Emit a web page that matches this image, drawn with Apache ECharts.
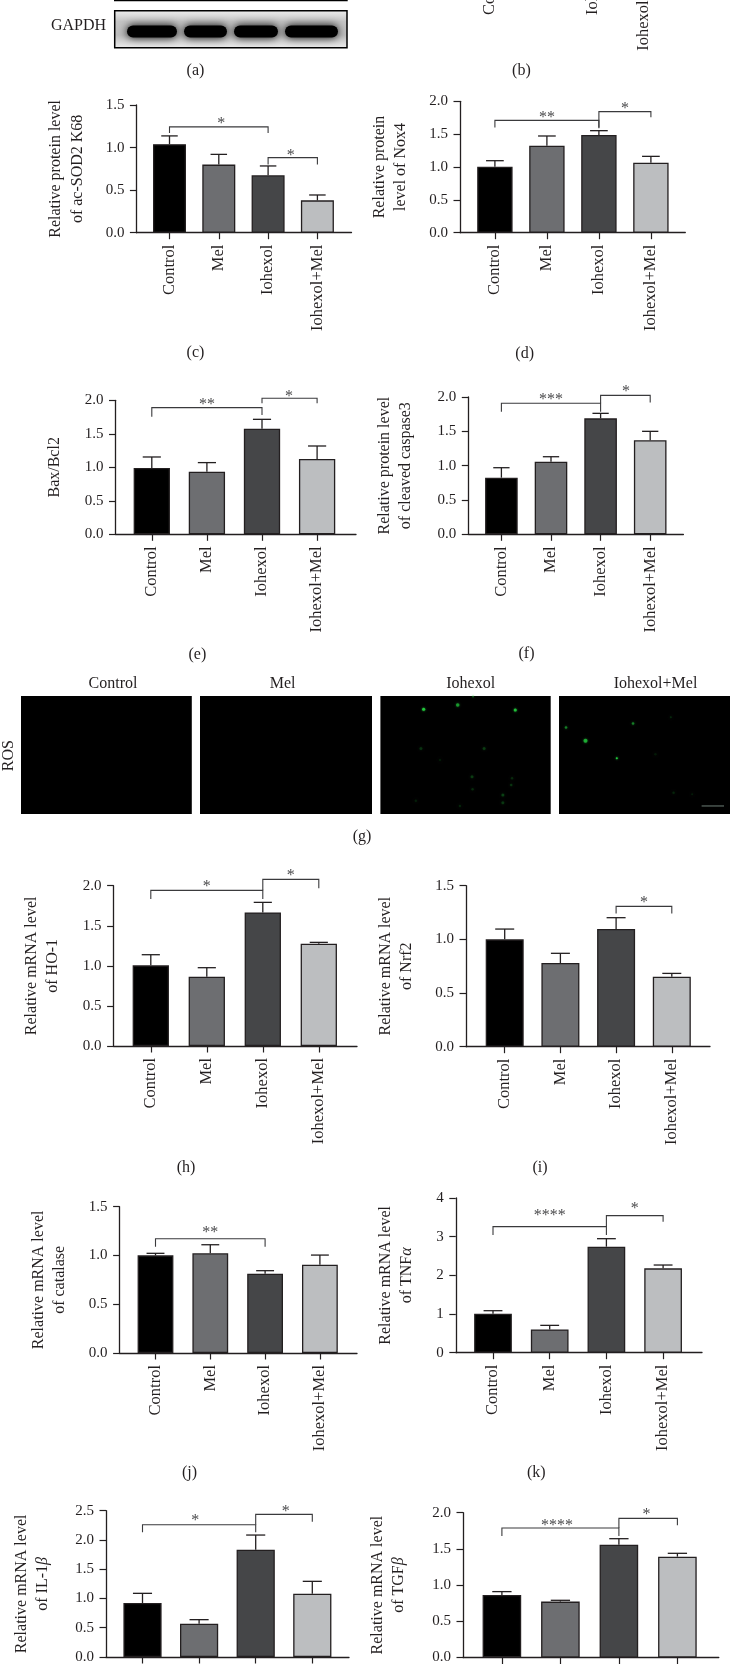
<!DOCTYPE html>
<html>
<head>
<meta charset="utf-8">
<style>html,body{margin:0;padding:0;background:#fff}#chart{width:730px;height:1665px}</style>
<script src="https://cdn.jsdelivr.net/npm/echarts@6/dist/echarts.min.js"></script>
</head>
<body>
<div id="chart"></div>
<script>
// ---------- data ----------
const categories = ['Control', 'Mel', 'Iohexol', 'Iohexol+Mel'];

const valuesC = [1.04, 0.80, 0.675, 0.38];
const errorsC = [1.137, 0.92, 0.784, 0.443];
const valuesD = [1.005, 1.325, 1.487, 1.066];
const errorsD = [1.096, 1.472, 1.553, 1.162];
const valuesE = [0.99, 0.935, 1.577, 1.124];
const errorsE = [1.154, 1.07, 1.716, 1.318];
const valuesF = [0.825, 1.058, 1.689, 1.369];
const errorsF = [0.97, 1.13, 1.762, 1.5];
const valuesH = [1.006, 0.865, 1.667, 1.277];
const errorsH = [1.139, 0.977, 1.792, 1.293];
const valuesI = [1.0, 0.78, 1.096, 0.652];
const errorsI = [1.096, 0.87, 1.202, 0.683];
const valuesJ = [1.001, 1.022, 0.813, 0.905];
const errorsJ = [1.022, 1.11, 0.844, 1.004];
const valuesK = [1.009, 0.603, 2.741, 2.181];
const errorsK = [1.086, 0.707, 2.948, 2.267];
const valuesL = [0.923, 0.57, 1.834, 1.082];
const errorsL = [1.088, 0.638, 2.084, 1.293];
const valuesM = [0.864, 0.772, 1.559, 1.393];
const errorsM = [0.91, 0.79, 1.641, 1.439];

// from, to, bracket level, left end, right end, stars, star position, star level
const bracketsC = [[0, 2, 1.243, 1.17, 1.17, '*', 1.05, 1.318], [2, 3, 0.882, 0.80, 0.80, '*', 2.46, 0.941]];
const bracketsD = [[0, 2, 1.71, 1.6, 1.6, '**', 1.0, 1.792], [2, 3, 1.843, 1.59, 1.756, '*', 2.5, 1.929]];
const bracketsE = [[0, 2, 1.89, 1.756, 1.78, '**', 1.0, 1.98], [2, 3, 2.03, 1.955, 1.955, '*', 2.49, 2.095]];
const bracketsF = [[0, 2, 1.908, 1.786, 1.786, '***', 1.0, 2.0], [2, 3, 2.024, 1.908, 1.92, '*', 2.51, 2.121]];
const bracketsH = [[0, 2, 1.942, 1.834, 1.834, '*', 1.0, 2.029], [2, 3, 2.079, 1.942, 1.967, '*', 2.5, 2.166]];
const bracketsI = [[2, 3, 1.307, 1.242, 1.242, '*', 2.5, 1.366]];
const bracketsJ = [[0, 2, 1.172, 1.09, 1.09, '**', 1.0, 1.268]];
const bracketsK = [[0, 2, 3.259, 3.043, 3.043, '****', 1.0, 3.621], [2, 3, 3.543, 3.259, 3.388, '*', 2.5, 3.793]];
const bracketsL = [[0, 2, 2.261, 2.13, 2.13, '*', 0.93, 2.38], [2, 3, 2.437, 2.261, 2.31, '*', 2.53, 2.534]];
const bracketsM = [[0, 2, 1.789, 1.678, 1.678, '****', 0.94, 1.862], [2, 3, 1.922, 1.789, 1.825, '*', 2.47, 2.014]];

const rosTitles = ['Control', 'Mel', 'Iohexol', 'Iohexol+Mel'];
// micrograph spots: x %, y %, size, opacity
const rosSpots3 = [[25.4, 11.3, 3, 1], [45.4, 7.6, 3.5, 0.6], [79.2, 11.9, 3, 0.9], [54.4, 0.5, 2, 0.35], [60.9, 44.4, 3, 0.2], [23.8, 44.4, 3, 0.16], [53.8, 68.4, 3, 0.2], [71.9, 83.9, 3, 0.22], [76.8, 75.4, 2.5, 0.18], [77.3, 69.8, 2.5, 0.14], [54.1, 79.1, 2.5, 0.14], [71.9, 90.4, 3, 0.18], [46.7, 93.2, 2.5, 0.12], [20.8, 88.7, 2.5, 0.1], [35, 54.2, 2.5, 0.08]];
const rosSpots4 = [[4.1, 26.8, 2.5, 0.5], [43.3, 23.2, 2.5, 0.5], [15.5, 37.9, 4, 0.7], [33.8, 52.8, 2, 1], [65.4, 18.1, 2, 0.15], [67, 81.9, 2.5, 0.12], [56.4, 49.4, 2.5, 0.08], [77.9, 83.3, 2, 0.1]];
const scaleBarPoints = [[83.4, 93.2], [96.5, 93.2]];

// ---------- layout and styles ----------
const FONT = '"Liberation Serif", serif';
const INK = '#231f20';
const barColors = ['#000000', '#6d6e71', '#454648', '#bcbec0'];

const panels = [
  { v: valuesC, e: errorsC, b: bracketsC, left: 136.4, right: 351.5, top: 105, bottom: 232.7, t0: 169.5, step: 49.3, bw: 33, max: 1.5, int: 0.5, gap: 48, name: 'Relative protein level\nof ac-SOD2 K68' },
  { v: valuesD, e: errorsD, b: bracketsD, left: 460, right: 685.3, top: 101.3, bottom: 232.7, t0: 494.9, step: 52, bw: 35.4, max: 2, int: 0.5, gap: 48, name: 'Relative protein\nlevel of Nox4' },
  { v: valuesE, e: errorsE, b: bracketsE, left: 115.5, right: 356, top: 400.3, bottom: 534.3, t0: 151.8, step: 55.1, bw: 36.3, max: 2, int: 0.5, gap: 49.7, name: 'Bax/Bcl2' },
  { v: valuesF, e: errorsF, b: bracketsF, left: 468.3, right: 683.4, top: 397, bottom: 534.3, t0: 501.4, step: 49.6, bw: 32.6, max: 2, int: 0.5, gap: 51.5, name: 'Relative protein level\nof cleaved caspase3' },
  { v: valuesH, e: errorsH, b: bracketsH, left: 113.6, right: 357, top: 885.7, bottom: 1046, t0: 150.8, step: 56, bw: 36.3, max: 2, int: 0.5, gap: 50, name: 'Relative mRNA level\nof HO-1' },
  { v: valuesI, e: errorsI, b: bracketsI, left: 466, right: 710, top: 885.7, bottom: 1046.7, t0: 504.7, step: 55.7, bw: 38, max: 1.5, int: 0.5, gap: 48, name: 'Relative mRNA level\nof Nrf2' },
  { v: valuesJ, e: errorsJ, b: bracketsJ, left: 119.6, right: 357, top: 1206.7, bottom: 1353, t0: 155.5, step: 54.8, bw: 35.8, max: 1.5, int: 0.5, gap: 49, name: 'Relative mRNA level\nof catalase' },
  { v: valuesK, e: errorsK, b: bracketsK, left: 455.8, right: 702, top: 1198, bottom: 1352.7, t0: 493, step: 56.7, bw: 37.7, max: 4, int: 1, dec: 0, gap: 38, name: 'Relative mRNA level\nof TNF{i|α}' },
  { v: valuesL, e: errorsL, b: bracketsL, left: 106, right: 349, top: 1510.7, bottom: 1657, t0: 142.5, step: 56.6, bw: 38.2, max: 2.5, int: 0.5, gap: 52, noLabels: true, name: 'Relative mRNA level\nof IL-1{i|β}' },
  { v: valuesM, e: errorsM, b: bracketsM, left: 463, right: 718.8, top: 1512.7, bottom: 1657.7, t0: 501.9, step: 58.5, bw: 38.6, max: 2, int: 0.5, gap: 53, noLabels: true, name: 'Relative mRNA level\nof TGF{i|β}' }
];

const rosPanels = [
  { left: 21, right: 191.8, spots: [] },
  { left: 200, right: 372, spots: [] },
  { left: 380.4, right: 550.7, spots: rosSpots3 },
  { left: 559, right: 730, spots: rosSpots4, bar: scaleBarPoints }
];

const grid = [], xAxis = [], yAxis = [], series = [];

function xLimits(p) {
  return { min: (p.left - p.t0) / p.step, max: (p.right - p.t0) / p.step };
}

function addAxes(p) {
  const lim = xLimits(p);
  const idx = grid.length;
  grid.push({ left: p.left, top: p.top, width: p.right - p.left, height: p.bottom - p.top, containLabel: false });
  xAxis.push({
    gridIndex: idx, type: 'value', min: lim.min, max: lim.max, splitLine: { show: false },
    axisLine: { show: !p.noLine, onZero: false, lineStyle: { color: INK, width: 1.3 } },
    axisTick: { show: !p.noLine, length: 6.5, customValues: [0, 1, 2, 3], lineStyle: { color: INK, width: 1.2 } },
    axisLabel: {
      show: !p.noLabels, customValues: [0, 1, 2, 3], rotate: 90, margin: 12, fontFamily: FONT, fontSize: 16.5, color: INK,
      formatter: v => categories[v] || ''
    }
  });
  return idx;
}

panels.forEach(p => {
  const idx = addAxes(p);
  const dec = p.dec === undefined ? 1 : p.dec;
  yAxis.push({
    gridIndex: idx, type: 'value', min: 0, max: p.max, interval: p.int, splitLine: { show: false },
    axisLine: { show: true, onZero: false, lineStyle: { color: INK, width: 1.3 } },
    axisTick: { show: true, length: 6.5, lineStyle: { color: INK, width: 1.2 } },
    axisLabel: { margin: 12, fontFamily: FONT, fontSize: 15, color: INK, formatter: v => v.toFixed(dec) },
    name: p.name, nameLocation: 'middle', nameRotate: 90, nameGap: p.gap, nameMoveOverlap: false,
    nameTextStyle: {
      fontFamily: FONT, fontSize: 16, color: INK, lineHeight: 21.5,
      rich: { i: { fontFamily: FONT, fontSize: 16, fontStyle: 'italic', color: INK, lineHeight: 21.5 } }
    }
  });
  series.push({
    type: 'bar', xAxisIndex: idx, yAxisIndex: idx, barWidth: p.bw, z: 3,
    data: p.v.map((val, i) => ({ value: [i, val], itemStyle: { color: barColors[i], borderColor: INK, borderWidth: 1.3 } })),
    silent: true
  });
  series.push({
    type: 'custom', xAxisIndex: idx, yAxisIndex: idx, z: 4, silent: true, clip: false,
    encode: { x: 0, y: 2 },
    data: p.v.map((val, i) => [i, val, p.e[i]]),
    renderItem: (params, api) => {
      const base = api.coord([api.value(0), api.value(1)]);
      const top = api.coord([api.value(0), api.value(2)]);
      const cap = p.bw * 0.25;
      const st = { stroke: INK, lineWidth: 1.3 };
      return { type: 'group', children: [
        { type: 'line', shape: { x1: base[0], y1: base[1], x2: top[0], y2: top[1] }, style: st },
        { type: 'line', shape: { x1: top[0] - cap, y1: top[1], x2: top[0] + cap, y2: top[1] }, style: st }
      ] };
    }
  });
  series.push({
    type: 'custom', xAxisIndex: idx, yAxisIndex: idx, z: 5, silent: true, clip: false,
    encode: { x: 0, y: 1 },
    data: p.b.map(r => [r[0], r[2]]),
    renderItem: (params, api) => {
      const r = p.b[params.dataIndex];
      const a = api.coord([r[0], r[3]]), b = api.coord([r[0], r[2]]);
      const c = api.coord([r[1], r[2]]), d = api.coord([r[1], r[4]]);
      const s = api.coord([r[6], r[7]]);
      return { type: 'group', children: [
        { type: 'polyline', shape: { points: [a, b, c, d] }, style: { stroke: '#3a3a3c', lineWidth: 1.1, fill: 'none' } },
        { type: 'text', x: s[0], y: s[1] + 3, style: { text: r[5], fill: '#4a4a4c', font: '16px ' + FONT, align: 'center', verticalAlign: 'middle' } }
      ] };
    }
  });
});

// panel (b): only the ends of its rotated labels reach the page
{
  const idx = addAxes({ left: 455, right: 690, top: -110, bottom: -60, t0: 490, step: 51.3, noLine: true });
  yAxis.push({ gridIndex: idx, type: 'value', min: 0, max: 1, show: false });
}

// panel (g): micrographs
rosPanels.forEach(r => {
  const idx = grid.length;
  grid.push({ left: r.left, right: 730 - r.right, top: 696, height: 118, show: true, backgroundColor: '#000', borderWidth: 0 });
  xAxis.push({ gridIndex: idx, type: 'value', min: 0, max: 100, show: false });
  yAxis.push({ gridIndex: idx, type: 'value', min: 0, max: 100, inverse: true, show: false });
  if (r.spots.length) {
    series.push({
      type: 'scatter', xAxisIndex: idx, yAxisIndex: idx, silent: true,
      data: r.spots.map(s => ({ value: [s[0], s[1]], symbolSize: s[2], itemStyle: { color: '#22c83c', opacity: s[3], shadowBlur: 2, shadowColor: '#22c83c' } }))
    });
  }
  if (r.bar) {
    series.push({ type: 'line', xAxisIndex: idx, yAxisIndex: idx, silent: true, symbol: 'none', data: r.bar, lineStyle: { color: '#6f7f78', width: 1 } });
  }
});

function txt(text, x, y, rotation) {
  return { type: 'text', x, y, rotation: rotation || 0, silent: true,
    style: { text, fill: INK, font: '16px ' + FONT, align: 'center', verticalAlign: 'middle' } };
}

const captions = [['(a)', 195.5, 70.3], ['(b)', 521.4, 70.3], ['(c)', 195.5, 352.7], ['(d)', 524.7, 353.3],
  ['(e)', 197.4, 654.3], ['(f)', 526.5, 654], ['(g)', 362, 836.7], ['(h)', 186, 1168], ['(i)', 540, 1168],
  ['(j)', 189.5, 1473], ['(k)', 536.3, 1473]];

const blotBands = [[127, 50], [184, 43], [234, 44], [285, 53]];

const graphic = [];
// blot (a)
graphic.push({ type: 'rect', silent: true, shape: { x: 114, y: 0, width: 233.7, height: 1.2 }, style: { fill: '#000' } });
graphic.push({ type: 'rect', silent: true, z: 1, shape: { x: 114.7, y: 10.7, width: 232.3, height: 37 },
  style: { fill: new echarts.graphic.LinearGradient(0, 0, 0, 1, [
    { offset: 0, color: '#f0f0f0' }, { offset: 0.3, color: '#c4c4c4' }, { offset: 0.65, color: '#bcbcbc' }, { offset: 1, color: '#eeeeee' }
  ]), stroke: '#000', lineWidth: 1.5 } });
blotBands.forEach(b => {
  graphic.push({ type: 'rect', silent: true, z: 2, shape: { x: b[0], y: 25.5, width: b[1], height: 12, r: 6 },
    style: { fill: '#000', shadowBlur: 9, shadowColor: '#000' } });
});
graphic.push(txt('GAPDH', 78.5, 25.7));
graphic.push(txt('ROS', 8.4, 755.7, Math.PI / 2));
[113, 282.6, 470.7, 655.5].forEach((x, i) => graphic.push(txt(rosTitles[i], x, 684)));
captions.forEach(c => graphic.push(txt(c[0], c[1], c[2])));

const chart = echarts.init(document.getElementById('chart'), null, { renderer: 'canvas' });
chart.setOption({ animation: false, backgroundColor: '#fff', tooltip: { show: false }, grid, xAxis, yAxis, series, graphic: { elements: graphic } });
</script>
</body>
</html>
